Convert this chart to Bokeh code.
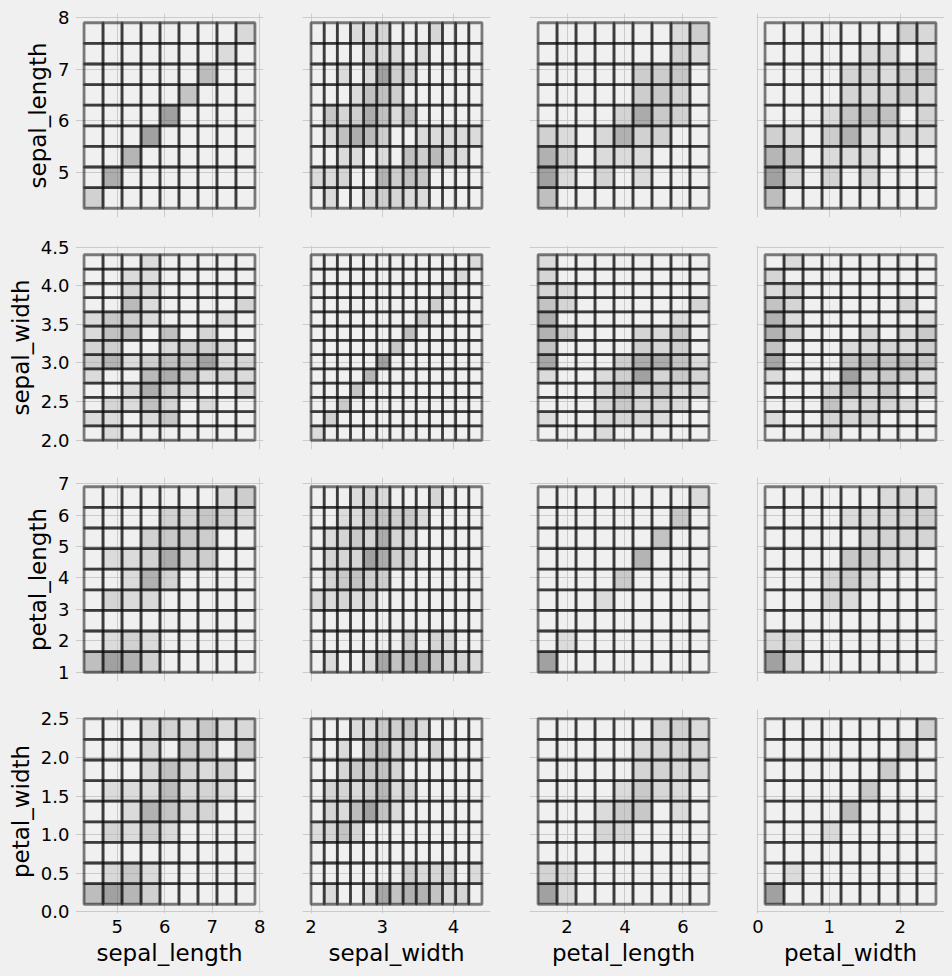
import numpy as np
from bokeh.plotting import figure
from bokeh.layouts import column, row
from bokeh.models import Range1d, FixedTicker, LinearAxis
from bokeh.embed import file_html
from bokeh.resources import INLINE

# ---------------- data (iris dataset) ----------------
sepal_length = [
    5.1, 4.9, 4.7, 4.6, 5.0, 5.4, 4.6, 5.0, 4.4, 4.9, 5.4, 4.8, 4.8, 4.3, 5.8, 5.7, 5.4, 5.1, 5.7, 5.1,
    5.4, 5.1, 4.6, 5.1, 4.8, 5.0, 5.0, 5.2, 5.2, 4.7, 4.8, 5.4, 5.2, 5.5, 4.9, 5.0, 5.5, 4.9, 4.4, 5.1,
    5.0, 4.5, 4.4, 5.0, 5.1, 4.8, 5.1, 4.6, 5.3, 5.0,
    7.0, 6.4, 6.9, 5.5, 6.5, 5.7, 6.3, 4.9, 6.6, 5.2, 5.0, 5.9, 6.0, 6.1, 5.6, 6.7, 5.6, 5.8, 6.2, 5.6,
    5.9, 6.1, 6.3, 6.1, 6.4, 6.6, 6.8, 6.7, 6.0, 5.7, 5.5, 5.5, 5.8, 6.0, 5.4, 6.0, 6.7, 6.3, 5.6, 5.5,
    5.5, 6.1, 5.8, 5.0, 5.6, 5.7, 5.7, 6.2, 5.1, 5.7,
    6.3, 5.8, 7.1, 6.3, 6.5, 7.6, 4.9, 7.3, 6.7, 7.2, 6.5, 6.4, 6.8, 5.7, 5.8, 6.4, 6.5, 7.7, 7.7, 6.0,
    6.9, 5.6, 7.7, 6.3, 6.7, 7.2, 6.2, 6.1, 6.4, 7.2, 7.4, 7.9, 6.4, 6.3, 6.1, 7.7, 6.3, 6.4, 6.0, 6.9,
    6.7, 6.9, 5.8, 6.8, 6.7, 6.7, 6.3, 6.5, 6.2, 5.9,
]
sepal_width = [
    3.5, 3.0, 3.2, 3.1, 3.6, 3.9, 3.4, 3.4, 2.9, 3.1, 3.7, 3.4, 3.0, 3.0, 4.0, 4.4, 3.9, 3.5, 3.8, 3.8,
    3.4, 3.7, 3.6, 3.3, 3.4, 3.0, 3.4, 3.5, 3.4, 3.2, 3.1, 3.4, 4.1, 4.2, 3.1, 3.2, 3.5, 3.6, 3.0, 3.4,
    3.5, 2.3, 3.2, 3.5, 3.8, 3.0, 3.8, 3.2, 3.7, 3.3,
    3.2, 3.2, 3.1, 2.3, 2.8, 2.8, 3.3, 2.4, 2.9, 2.7, 2.0, 3.0, 2.2, 2.9, 2.9, 3.1, 3.0, 2.7, 2.2, 2.5,
    3.2, 2.8, 2.5, 2.8, 2.9, 3.0, 2.8, 3.0, 2.9, 2.6, 2.4, 2.4, 2.7, 2.7, 3.0, 3.4, 3.1, 2.3, 3.0, 2.5,
    2.6, 3.0, 2.6, 2.3, 2.7, 3.0, 2.9, 2.9, 2.5, 2.8,
    3.3, 2.7, 3.0, 2.9, 3.0, 3.0, 2.5, 2.9, 2.5, 3.6, 3.2, 2.7, 3.0, 2.5, 2.8, 3.2, 3.0, 3.8, 2.6, 2.2,
    3.2, 2.8, 2.8, 2.7, 3.3, 3.2, 2.8, 3.0, 2.8, 3.0, 2.8, 3.8, 2.8, 2.8, 2.6, 3.0, 3.4, 3.1, 3.0, 3.1,
    3.1, 3.1, 2.7, 3.2, 3.3, 3.0, 2.5, 3.0, 3.4, 3.0,
]
petal_length = [
    1.4, 1.4, 1.3, 1.5, 1.4, 1.7, 1.4, 1.5, 1.4, 1.5, 1.5, 1.6, 1.4, 1.1, 1.2, 1.5, 1.3, 1.4, 1.7, 1.5,
    1.7, 1.5, 1.0, 1.7, 1.9, 1.6, 1.6, 1.5, 1.4, 1.6, 1.6, 1.5, 1.5, 1.4, 1.5, 1.2, 1.3, 1.4, 1.3, 1.5,
    1.3, 1.3, 1.3, 1.6, 1.9, 1.4, 1.6, 1.4, 1.5, 1.4,
    4.7, 4.5, 4.9, 4.0, 4.6, 4.5, 4.7, 3.3, 4.6, 3.9, 3.5, 4.2, 4.0, 4.7, 3.6, 4.4, 4.5, 4.1, 4.5, 3.9,
    4.8, 4.0, 4.9, 4.7, 4.3, 4.4, 4.8, 5.0, 4.5, 3.5, 3.8, 3.7, 3.9, 5.1, 4.5, 4.5, 4.7, 4.4, 4.1, 4.0,
    4.4, 4.6, 4.0, 3.3, 4.2, 4.2, 4.2, 4.3, 3.0, 4.1,
    6.0, 5.1, 5.9, 5.6, 5.8, 6.6, 4.5, 6.3, 5.8, 6.1, 5.1, 5.3, 5.5, 5.0, 5.1, 5.3, 5.5, 6.7, 6.9, 5.0,
    5.7, 4.9, 6.7, 4.9, 5.7, 6.0, 4.8, 4.9, 5.6, 5.8, 6.1, 6.4, 5.6, 5.1, 5.6, 6.1, 5.6, 5.5, 4.8, 5.4,
    5.6, 5.1, 5.1, 5.9, 5.7, 5.2, 5.0, 5.2, 5.4, 5.1,
]
petal_width = [
    0.2, 0.2, 0.2, 0.2, 0.2, 0.4, 0.3, 0.2, 0.2, 0.1, 0.2, 0.2, 0.1, 0.1, 0.2, 0.4, 0.4, 0.3, 0.3, 0.3,
    0.2, 0.4, 0.2, 0.5, 0.2, 0.2, 0.4, 0.2, 0.2, 0.2, 0.2, 0.4, 0.1, 0.2, 0.2, 0.2, 0.2, 0.1, 0.2, 0.2,
    0.3, 0.3, 0.2, 0.6, 0.4, 0.3, 0.2, 0.2, 0.2, 0.2,
    1.4, 1.5, 1.5, 1.3, 1.5, 1.3, 1.6, 1.0, 1.3, 1.4, 1.0, 1.5, 1.0, 1.4, 1.3, 1.4, 1.5, 1.0, 1.5, 1.1,
    1.8, 1.3, 1.5, 1.2, 1.3, 1.4, 1.4, 1.7, 1.5, 1.0, 1.1, 1.0, 1.2, 1.6, 1.5, 1.6, 1.5, 1.3, 1.3, 1.3,
    1.2, 1.4, 1.2, 1.0, 1.3, 1.2, 1.3, 1.3, 1.1, 1.3,
    2.5, 1.9, 2.1, 1.8, 2.2, 2.1, 1.7, 1.8, 1.8, 2.5, 2.0, 1.9, 2.1, 2.0, 2.4, 2.3, 1.8, 2.2, 2.3, 1.5,
    2.3, 2.0, 2.0, 1.8, 2.1, 1.8, 1.8, 1.8, 2.1, 1.6, 1.9, 2.0, 2.2, 1.5, 1.4, 2.3, 2.4, 1.8, 1.8, 2.1,
    2.4, 2.3, 1.9, 2.3, 2.5, 2.3, 1.9, 2.0, 2.3, 1.8,
]

variables = ["sepal_length", "sepal_width", "petal_length", "petal_width"]
columns_data = {
    "sepal_length": sepal_length,
    "sepal_width": sepal_width,
    "petal_length": petal_length,
    "petal_width": petal_width,
}

# tick positions / labels
x_ticks = {
    "sepal_length": [5, 6, 7, 8],
    "sepal_width": [2, 3, 4],
    "petal_length": [2, 4, 6],
    "petal_width": [0, 1, 2],
}
x_tick_labels = {
    "sepal_length": ["5", "6", "7", "8"],
    "sepal_width": ["2", "3", "4"],
    "petal_length": ["2", "4", "6"],
    "petal_width": ["0", "1", "2"],
}
y_ticks = {
    "sepal_length": [5, 6, 7, 8],
    "sepal_width": [2.0, 2.5, 3.0, 3.5, 4.0, 4.5],
    "petal_length": [1, 2, 3, 4, 5, 6, 7],
    "petal_width": [0.0, 0.5, 1.0, 1.5, 2.0, 2.5],
}
y_tick_labels = {
    "sepal_length": ["5", "6", "7", "8"],
    "sepal_width": ["2.0", "2.5", "3.0", "3.5", "4.0", "4.5"],
    "petal_length": ["1", "2", "3", "4", "5", "6", "7"],
    "petal_width": ["0.0", "0.5", "1.0", "1.5", "2.0", "2.5"],
}

# ---------------- styling / layout ----------------
BG = "#f0f0f0"
GRID = "#cbcbcb"
FONT = "DejaVu Sans"
FRAME_W, FRAME_H = 188, 204
BORDER_L = [75, 19, 19, 19]
BORDER_R = [20, 20, 20, 8]
BORDER_T = [13, 14, 14, 14]
BORDER_B = [14, 14, 14, 63]


def gray_for(count, vmin, vmax):
    # seaborn-like light->dark gray ramp (CIE L* from 80 down to 35)
    t = 0.0 if vmax == vmin else (count - vmin) / (vmax - vmin)
    idx = min(int(t * 256), 255)
    L = 80 - 45 * idx / 255
    Y = ((L + 16) / 116) ** 3
    c = 1.055 * Y ** (1 / 2.4) - 0.055
    v = int(round(max(0, min(1, c)) * 255))
    return "#%02x%02x%02x" % (v, v, v)


def pad_range(vals):
    lo, hi = min(vals), max(vals)
    m = 0.05 * (hi - lo)
    return Range1d(lo - m, hi + m)


rows = []
for i, yv in enumerate(variables):
    figs = []
    for j, xv in enumerate(variables):
        xd = np.array(columns_data[xv])
        yd = np.array(columns_data[yv])
        ex = np.histogram_bin_edges(xd, bins="auto")
        ey = np.histogram_bin_edges(yd, bins="auto")
        H, _, _ = np.histogram2d(xd, yd, bins=[ex, ey])

        p = figure(
            width=BORDER_L[j] + FRAME_W + BORDER_R[j],
            height=BORDER_T[i] + FRAME_H + BORDER_B[i],
            x_range=pad_range(xd), y_range=pad_range(yd),
            x_axis_location=None, y_axis_location=None,
            toolbar_location=None, output_backend="svg",
            min_border_left=BORDER_L[j], min_border_right=BORDER_R[j],
            min_border_top=BORDER_T[i], min_border_bottom=BORDER_B[i],
            background_fill_color=BG, border_fill_color=BG,
            outline_line_color=None,
            styles={"background-color": BG},
        )
        p.xgrid.ticker = FixedTicker(ticks=x_ticks[xv])
        p.ygrid.ticker = FixedTicker(ticks=y_ticks[yv])
        p.xgrid.grid_line_color = GRID
        p.ygrid.grid_line_color = GRID
        p.xgrid.grid_line_width = 1
        p.ygrid.grid_line_width = 1

        positive = H[H > 0]
        vmin, vmax = positive.min(), positive.max()
        fl, fr, fb, ft, fc = [], [], [], [], []
        el, er, eb, et = [], [], [], []
        for a in range(len(ex) - 1):
            for b in range(len(ey) - 1):
                el.append(ex[a]); er.append(ex[a + 1])
                eb.append(ey[b]); et.append(ey[b + 1])
                if H[a, b] > 0:
                    fl.append(ex[a]); fr.append(ex[a + 1])
                    fb.append(ey[b]); ft.append(ey[b + 1])
                    fc.append(gray_for(H[a, b], vmin, vmax))
        p.quad(left=fl, right=fr, bottom=fb, top=ft, fill_color=fc,
               fill_alpha=0.5, line_color=None)
        p.quad(left=el, right=er, bottom=eb, top=et, fill_color=None,
               line_color="black", line_alpha=0.5, line_width=2.8)

        if j == 0:
            ax = LinearAxis(
                ticker=FixedTicker(ticks=y_ticks[yv]),
                major_label_overrides=dict(zip(y_ticks[yv], y_tick_labels[yv])),
                axis_label=yv,
            )
            p.add_layout(ax, "left")
        if i == len(variables) - 1:
            ax = LinearAxis(
                ticker=FixedTicker(ticks=x_ticks[xv]),
                major_label_overrides=dict(zip(x_ticks[xv], x_tick_labels[xv])),
                axis_label=xv,
            )
            p.add_layout(ax, "below")
        for ax in p.axis:
            ax.axis_line_color = None
            ax.major_tick_line_color = None
            ax.minor_tick_line_color = None
            ax.major_tick_out = 0
            ax.major_tick_in = 0
            ax.minor_tick_out = 0
            ax.minor_tick_in = 0
            ax.major_label_standoff = 6
            ax.axis_label_standoff = 4
            ax.major_label_text_font = FONT
            ax.major_label_text_font_size = "18px"
            ax.major_label_text_color = "black"
            ax.axis_label_text_font = FONT
            ax.axis_label_text_font_size = "23px"
            ax.axis_label_text_font_style = "normal"
            ax.axis_label_text_color = "black"
        figs.append(p)
    rows.append(row(*figs, spacing=0, styles={"background-color": BG}))

layout = column(*rows, spacing=0, styles={"background-color": BG})
open("out.html", "w").write(file_html(layout, INLINE))
